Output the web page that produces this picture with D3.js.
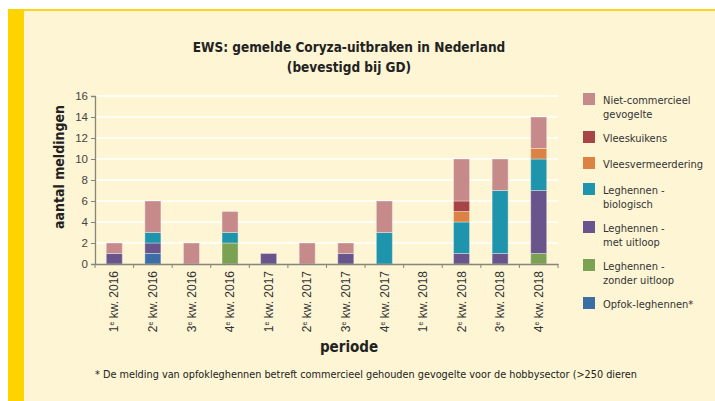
<!DOCTYPE html>
<html>
<head>
<meta charset="utf-8">
<script src="https://cdn.jsdelivr.net/npm/d3@7"></script>
<style>
  body { margin: 0; background: #fff; }
  svg { display: block; font-family: "DejaVu Sans Condensed", "Liberation Sans Narrow", sans-serif; }
</style>
</head>
<body>
<svg id="chart" width="715" height="401"></svg>
<script>
// categories (kwartalen)
const periods = ["1e kw. 2016", "2e kw. 2016", "3e kw. 2016", "4e kw. 2016",
                 "1e kw. 2017", "2e kw. 2017", "3e kw. 2017", "4e kw. 2017",
                 "1e kw. 2018", "2e kw. 2018", "3e kw. 2018", "4e kw. 2018"];

// series, bottom to top of stack
const opfok        = [0, 1, 0, 0, 0, 0, 0, 0, 0, 0, 0, 0];
const zonderUitloop = [0, 0, 0, 2, 0, 0, 0, 0, 0, 0, 0, 1];
const metUitloop   = [1, 1, 0, 0, 1, 0, 1, 0, 0, 1, 1, 6];
const biologisch   = [0, 1, 0, 1, 0, 0, 0, 3, 0, 3, 6, 3];
const vleesverm    = [0, 0, 0, 0, 0, 0, 0, 0, 0, 1, 0, 1];
const vleeskuikens = [0, 0, 0, 0, 0, 0, 0, 0, 0, 1, 0, 0];
const nietComm     = [1, 3, 2, 2, 0, 2, 1, 3, 0, 4, 3, 3];

const yTicks = [0, 2, 4, 6, 8, 10, 12, 14, 16];

const seriesKeys = ["opfok", "zonder", "met", "bio", "vleesverm", "kuikens", "niet"];
const seriesValues = [opfok, zonderUitloop, metUitloop, biologisch, vleesverm, vleeskuikens, nietComm];
const seriesColors = ["#3a6ea5", "#7ba153", "#69558c", "#1f95ad", "#dc8343", "#a94446", "#c78a8a"];
const seriesLabels = [["Opfok-leghennen*"], ["Leghennen -", "zonder uitloop"], ["Leghennen -", "met uitloop"],
                      ["Leghennen -", "biologisch"], ["Vleesvermeerdering"], ["Vleeskuikens"],
                      ["Niet-commercieel", "gevogelte"]];

const table = periods.map((p, i) => {
    let row = {period: p};
    seriesKeys.forEach((k, j) => row[k] = seriesValues[j][i]);
    return row;
});

let svg = d3.select("#chart");
let width = +svg.attr("width");
let height = +svg.attr("height");
let padding = {top: 96, right: 157, bottom: 137, left: 95};

// background panel + yellow frame
svg.append("rect").attr("x", 8).attr("y", 9).attr("width", width - 8).attr("height", height - 9).attr("fill", "#fdf5d4");
svg.append("rect").attr("x", 8).attr("y", 9).attr("width", width - 8).attr("height", 2).attr("fill", "#fed51a");
svg.append("rect").attr("x", 8).attr("y", 9).attr("width", 16).attr("height", height - 9).attr("fill", "#fed400");

let xScale = d3.scaleBand()
               .domain(periods)
               .range([padding.left, width - padding.right])
               .paddingInner(0.585)
               .paddingOuter(0.2925);
let yScale = d3.scaleLinear()
               .domain([0, 16])
               .range([height - padding.bottom, padding.top]);

// gridlines
svg.append("g")
    .selectAll("line")
    .data(yTicks.slice(1))
    .enter()
    .append("line")
      .attr("x1", padding.left)
      .attr("x2", width - padding.right)
      .attr("y1", d => yScale(d))
      .attr("y2", d => yScale(d))
      .attr("stroke", "#ffffff")
      .attr("stroke-width", 1.5);

// stacked bars
let stack = d3.stack().keys(seriesKeys)(table);
svg.append("g")
    .selectAll("g")
    .data(stack)
    .enter()
    .append("g")
      .attr("fill", (d, i) => seriesColors[i])
    .selectAll("rect")
    .data(d => d.filter(s => s[1] > s[0]))
    .enter()
    .append("rect")
      .attr("x", d => xScale(d.data.period))
      .attr("width", xScale.bandwidth())
      .attr("y", d => yScale(d[1]))
      .attr("height", d => yScale(d[0]) - yScale(d[1]))
      .attr("stroke", "rgba(255,255,255,0.35)")
      .attr("stroke-width", 1);

// y axis
let yAxis = d3.axisLeft(yScale).tickValues(yTicks).tickSize(4).tickPadding(3);
let yg = svg.append("g")
    .attr("transform", "translate(" + padding.left + ",0)")
    .call(yAxis);
yg.select(".domain").attr("stroke", "#85857a").attr("stroke-width", 1.3);
yg.selectAll(".tick line").attr("stroke", "#85857a");
yg.selectAll(".tick text").attr("fill", "#444").style("font-size", "11.5px");

// x axis
let xAxis = d3.axisBottom(xScale).tickSize(0);
let xg = svg.append("g")
    .attr("transform", "translate(0," + (height - padding.bottom) + ")")
    .call(xAxis);
xg.select(".domain").attr("stroke", "#85857a").attr("stroke-width", 1.5);
xg.selectAll(".tick text")
    .attr("transform", "rotate(-90)")
    .attr("x", -7)
    .attr("y", 0)
    .attr("dy", "0.35em")
    .style("text-anchor", "end")
    .style("font-size", "12px")
    .attr("fill", "#333")
    .each(function(d) {
        let t = d3.select(this).text(null);
        t.append("tspan").text(d.slice(0, 1));
        t.append("tspan").text(d.slice(1, 2)).style("font-size", "7px").attr("dy", "-4");
        t.append("tspan").text(d.slice(2)).attr("dy", "4");
    });

// boundary ticks between bars
let half = (xScale.step() - xScale.bandwidth()) / 2;
let bounds = periods.map(p => xScale(p) - half).concat([width - padding.right]);
xg.selectAll(".bound")
    .data(bounds)
    .enter()
    .append("line")
      .attr("x1", d => d)
      .attr("x2", d => d)
      .attr("y1", 0)
      .attr("y2", 4)
      .attr("stroke", "#85857a");

// titles
svg.append("text")
    .attr("x", 349).attr("y", 52)
    .style("text-anchor", "middle")
    .style("font-size", "13.5px").style("font-weight", "bold")
    .attr("fill", "#222")
    .text("EWS: gemelde Coryza-uitbraken in Nederland");
svg.append("text")
    .attr("x", 349).attr("y", 72)
    .style("text-anchor", "middle")
    .style("font-size", "13.5px").style("font-weight", "bold")
    .attr("fill", "#222")
    .text("(bevestigd bij GD)");

svg.append("text")
    .attr("transform", "rotate(-90)")
    .attr("x", -167).attr("y", 64)
    .style("text-anchor", "middle")
    .style("font-size", "14px").style("font-weight", "bold")
    .attr("fill", "#222")
    .text("aantal meldingen");

svg.append("text")
    .attr("x", 349).attr("y", 352)
    .style("text-anchor", "middle")
    .style("font-size", "15px").style("font-weight", "bold")
    .attr("fill", "#222")
    .text("periode");

svg.append("text")
    .attr("x", 95).attr("y", 378)
    .style("font-size", "10.8px")
    .attr("fill", "#222")
    .text("* De melding van opfokleghennen betreft commercieel gehouden gevogelte voor de hobbysector (>250 dieren");

// legend, top to bottom
let legendOrder = d3.range(seriesKeys.length).reverse();
let ly = 93;
let legend = svg.append("g");
legendOrder.forEach(i => {
    let g = legend.append("g").attr("transform", "translate(583," + ly + ")");
    g.append("rect").attr("width", 12).attr("height", 12).attr("fill", seriesColors[i]);
    g.append("text")
        .attr("x", 20).attr("y", 10.5)
        .style("font-size", "11px")
        .attr("fill", "#333")
        .selectAll("tspan")
        .data(seriesLabels[i])
        .enter()
        .append("tspan")
          .attr("x", 20)
          .attr("dy", (d, k) => k === 0 ? 0 : 14)
          .text(d => d);
    ly += seriesLabels[i].length === 2 ? 38 : 26;
});
</script>
</body>
</html>
